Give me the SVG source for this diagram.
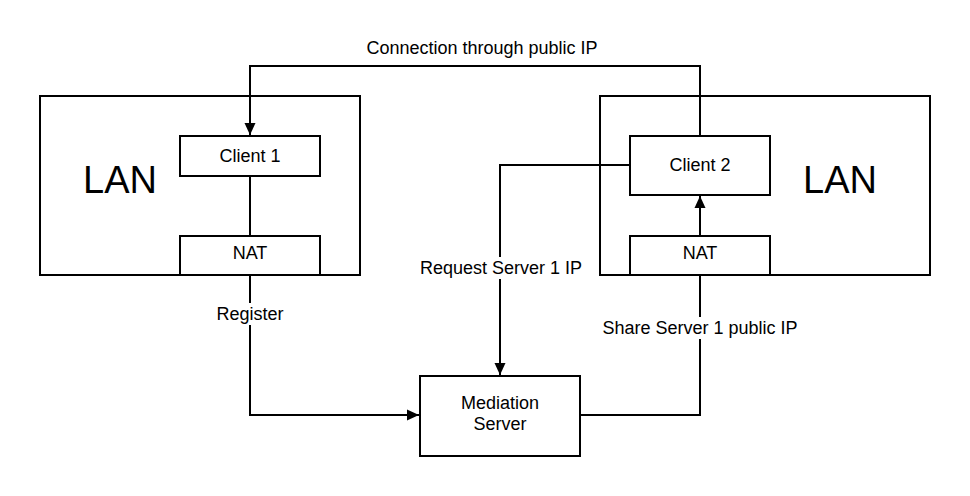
<svg xmlns="http://www.w3.org/2000/svg" width="970" height="496" viewBox="0 0 970 496">
<style>
.box{fill:#fff;stroke:#000;stroke-width:2}
.lan{fill:none;stroke:#000;stroke-width:2}
.t{font-family:"Liberation Sans",Arial,sans-serif;font-size:18px;fill:#000;text-anchor:middle}
.big{font-family:"Liberation Sans",Arial,sans-serif;font-size:38px;fill:#000;text-anchor:middle}
.c{fill:none;stroke:#000;stroke-width:2}
.bg{fill:#fff}
</style>
<defs>
<marker id="ah" viewBox="0 0 12 12" refX="12" refY="6" markerWidth="12" markerHeight="12" markerUnits="userSpaceOnUse" orient="auto">
<path d="M0,0.5 L12,6 L0,11.5 Z" fill="#000"/>
</marker>
</defs>
<rect width="970" height="496" fill="#fff"/>
<g id="lan-left">
<rect class="lan" x="40" y="96" width="320" height="179"/>
<text class="big" x="120" y="193">LAN</text>
</g>
<g id="lan-right">
<rect class="lan" x="600" y="96" width="330" height="179"/>
<text class="big" x="840" y="193">LAN</text>
</g>
<g id="connectors">
<polyline class="c" points="700,135 700,66 250,66 250,135" marker-end="url(#ah)"/>
<line class="c" x1="250" y1="176" x2="250" y2="236"/>
<polyline class="c" points="250,275 250,415 419,415" marker-end="url(#ah)"/>
<polyline class="c" points="630,165 500,165 500,375" marker-end="url(#ah)"/>
<polyline class="c" points="580,415 700,415 700,275"/>
<line class="c" x1="700" y1="236" x2="700" y2="196" marker-end="url(#ah)"/>
<rect class="bg" x="358" y="38" width="248" height="22"/>
<text class="t" x="482" y="54">Connection through public IP</text>
<rect class="bg" x="214" y="303" width="72" height="22"/>
<text class="t" x="250" y="320">Register</text>
<rect class="bg" x="416" y="257" width="170" height="22"/>
<text class="t" x="501" y="274">Request Server 1 IP</text>
<rect class="bg" x="601" y="317" width="198" height="22"/>
<text class="t" x="700" y="334">Share Server 1 public IP</text>
</g>
<g id="client1">
<rect class="box" x="180" y="136" width="140" height="40"/>
<text class="t" x="250" y="162">Client 1</text>
</g>
<g id="nat-left">
<rect class="box" x="180" y="236" width="140" height="39"/>
<text class="t" x="250" y="259">NAT</text>
</g>
<g id="client2">
<rect class="box" x="630" y="136" width="140" height="59"/>
<text class="t" x="700" y="171">Client 2</text>
</g>
<g id="nat-right">
<rect class="box" x="630" y="236" width="140" height="39"/>
<text class="t" x="700" y="259">NAT</text>
</g>
<g id="mediation">
<rect class="box" x="420" y="376" width="160" height="80"/>
<text class="t" x="500" y="409">Mediation</text>
<text class="t" x="500" y="430">Server</text>
</g>
</svg>
